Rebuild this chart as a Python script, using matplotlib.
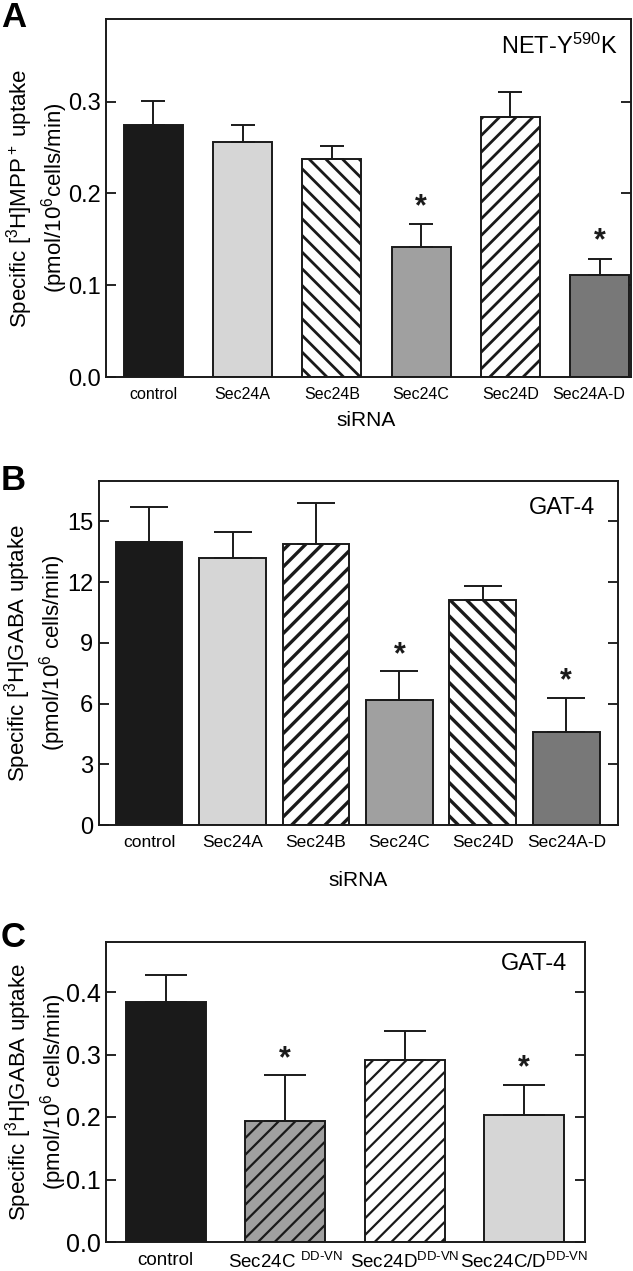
import numpy as np
import matplotlib
matplotlib.use("Agg")
import matplotlib.pyplot as plt
import matplotlib.transforms as mtransforms

plt.rcParams['font.family'] = ['Liberation Sans', 'DejaVu Sans']
plt.rcParams['mathtext.fontset'] = 'custom'
plt.rcParams['mathtext.rm'] = 'Liberation Sans'
plt.rcParams['mathtext.it'] = 'Liberation Sans:italic'
plt.rcParams['mathtext.bf'] = 'Liberation Sans:bold'
NARROW = ['Liberation Sans Narrow', 'Liberation Sans', 'DejaVu Sans']

# panel A: NET-Y590K, [3H]MPP+ uptake
a_labels = ['control', 'Sec24A', 'Sec24B', 'Sec24C', 'Sec24D', 'Sec24A-D']
a_values = [0.275, 0.256, 0.238, 0.142, 0.283, 0.111]
a_errors = [0.026, 0.018, 0.014, 0.025, 0.027, 0.018]
a_signif = [False, False, False, True, False, True]

# panel B: GAT-4, [3H]GABA uptake
b_labels = ['control', 'Sec24A', 'Sec24B', 'Sec24C', 'Sec24D', 'Sec24A-D']
b_values = [14.0, 13.2, 13.9, 6.2, 11.1, 4.6]
b_errors = [1.7, 1.3, 2.0, 1.4, 0.7, 1.7]
b_signif = [False, False, False, True, False, True]

# panel C: GAT-4, DD-VN mutants
c_labels = ['control', r'Sec24C $^{\mathrm{DD\text{-}VN}}$',
            r'Sec24D$^{\mathrm{DD\text{-}VN}}$', r'Sec24C/D$^{\mathrm{DD\text{-}VN}}$']
c_values = [0.384, 0.194, 0.291, 0.203]
c_errors = [0.044, 0.073, 0.046, 0.049]
c_signif = [False, True, False, True]

BLACK = '#1a1a1a'
LIGHT = '#d6d6d6'
MID = '#a0a0a0'
DARK = '#787878'

W, H = 633, 1271
fig = plt.figure(figsize=(W / 100, H / 100), dpi=100)


def px_axes(left, top, right, bottom):
    return fig.add_axes([left / W, 1 - bottom / H, (right - left) / W, (bottom - top) / H])


def panel(ax, labels, values, errors, signif, colors, hatches, width, hlw,
          xlim, ylim, yticks, ytl, capsize, star_off, tick_fs, label_fs):
    x = np.arange(len(values))
    plt.rcParams['hatch.linewidth'] = hlw
    bars = ax.bar(x, values, width=width, color=colors, edgecolor=BLACK,
                  linewidth=1.4, zorder=2)
    for b, h in zip(bars, hatches):
        if h:
            b.set_hatch(h)
    ax.errorbar(x, values, yerr=[np.zeros(len(values)), errors], fmt='none',
                ecolor=BLACK, elinewidth=1.4, capsize=capsize, capthick=1.4, zorder=3)
    for xi, v, e, s in zip(x, values, errors, signif):
        if s:
            ax.text(xi, v + e + star_off, '*', ha='center', va='bottom',
                    fontsize=22, fontweight='bold', color=BLACK)
    ax.set_xlim(*xlim)
    ax.set_ylim(*ylim)
    ax.set_xticks(x)
    ax.set_xticklabels(labels, fontsize=label_fs)
    ax.tick_params(axis='x', length=0, pad=7)
    ax.set_yticks(yticks)
    ax.set_yticklabels(ytl, fontsize=tick_fs, family=NARROW)
    ax.tick_params(axis='y', direction='in', length=7, width=1.2, right=True,
                   left=True, pad=4)
    for s in ax.spines.values():
        s.set_linewidth(1.4)
        s.set_color(BLACK)


# ---- A
axA = px_axes(106, 19, 631, 377)
panel(axA, a_labels, a_values, a_errors, a_signif,
      [BLACK, LIGHT, 'white', MID, 'white', DARK],
      [None, None, '\\\\', None, '//', None], 0.66, 2.0,
      (-0.53, 5.35), (0, 0.39), [0.0, 0.1, 0.2, 0.3], ['0.0', '0.1', '0.2', '0.3'],
      8.5, 0.002, 17, 11.5)
# last label sits close to the right edge, nudge it inward
last = axA.get_xticklabels()[-1]
last.set_transform(last.get_transform() +
                   mtransforms.ScaledTranslation(-8 / 72, 0, fig.dpi_scale_trans))
axA.text(0.975, 0.96, r'NET-Y$^{590}$K', transform=axA.transAxes, ha='right',
         va='top', fontsize=17, family=NARROW)
fig.text(366 / W, 1 - 420 / H, 'siRNA', ha='center', va='center', fontsize=15)
fig.text(37 / W, 1 - 198 / H,
         'Specific [$^3$H]MPP$^+$ uptake\n(pmol/10$^6$cells/min)',
         rotation=90, ha='center', va='center', fontsize=16, linespacing=1.15)
fig.text(1 / W, 1 - 1 / H, 'A', ha='left', va='top', fontsize=25, fontweight='bold')

# ---- B
axB = px_axes(99, 481, 618, 825)
panel(axB, b_labels, b_values, b_errors, b_signif,
      [BLACK, LIGHT, 'white', MID, 'white', DARK],
      [None, None, '//', None, '\\\\', None], 0.8, 2.4,
      (-0.6, 5.62), (0, 17), [0, 3, 6, 9, 12, 15], ['0', '3', '6', '9', '12', '15'],
      14, 0.05, 17, 12.5)
axB.text(0.956, 0.953, 'GAT-4', transform=axB.transAxes, ha='right', va='top',
         fontsize=17, family=NARROW)
fig.text(358 / W, 1 - 880 / H, 'siRNA', ha='center', va='center', fontsize=15)
fig.text(35 / W, 1 - 653 / H,
         'Specific [$^3$H]GABA uptake\n(pmol/10$^6$ cells/min)',
         rotation=90, ha='center', va='center', fontsize=16, linespacing=1.15)
fig.text(1 / W, 1 - 464 / H, 'B', ha='left', va='top', fontsize=25, fontweight='bold')

# ---- C
axC = px_axes(106, 942, 585, 1242)
panel(axC, c_labels, c_values, c_errors, c_signif,
      [BLACK, MID, 'white', LIGHT],
      [None, '//', '//', None], 0.67, 1.6,
      (-0.5, 3.51), (0, 0.48), [0.0, 0.1, 0.2, 0.3, 0.4],
      ['0.0', '0.1', '0.2', '0.3', '0.4'],
      15, 0.002, 18, 13.5)
axC.text(0.962, 0.963, 'GAT-4', transform=axC.transAxes, ha='right', va='top',
         fontsize=17, family=NARROW)
fig.text(36 / W, 1 - 1092 / H,
         'Specific [$^3$H]GABA uptake\n(pmol/10$^6$ cells/min)',
         rotation=90, ha='center', va='center', fontsize=16, linespacing=1.15)
fig.text(1 / W, 1 - 921 / H, 'C', ha='left', va='top', fontsize=25, fontweight='bold')

fig.savefig('out.png', dpi=100)
